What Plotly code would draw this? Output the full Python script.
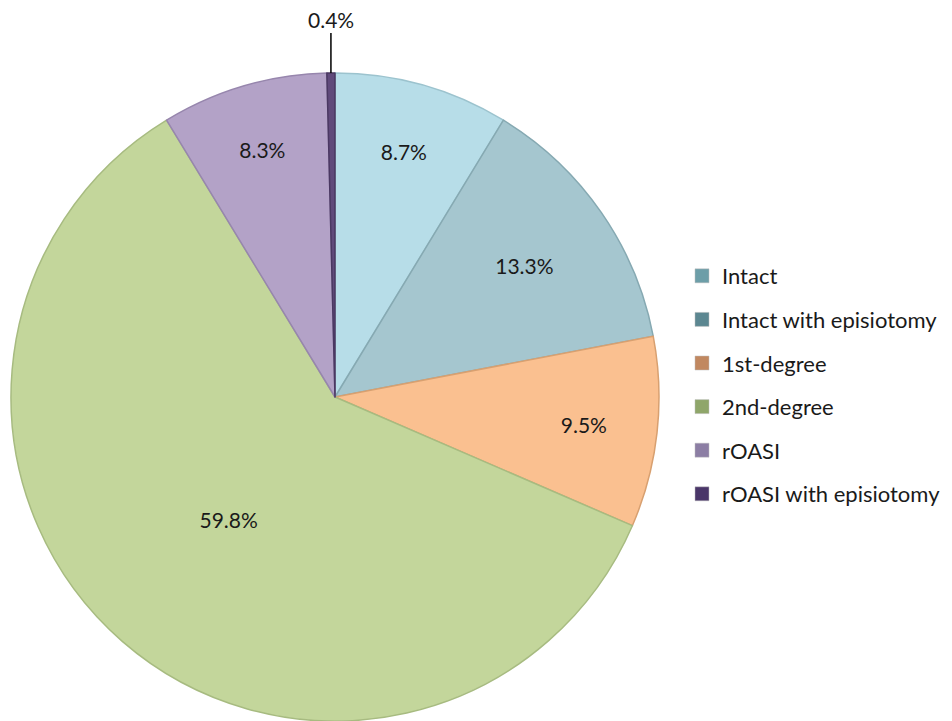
import math
import plotly.graph_objects as go

# Perineal outcome categories and their shares (%)
categories = ["Intact", "Intact with episiotomy", "1st-degree", "2nd-degree",
              "rOASI", "rOASI with episiotomy"]
shares = [8.7, 13.3, 9.5, 59.8, 8.3, 0.4]

slice_colors = ["#b7dde8", "#a5c6cf", "#fac090", "#c3d69b", "#b3a2c7", "#604a7b"]
edge_colors = ["#9cc3ce", "#86a9b2", "#d8a070", "#a7bb80", "#9786ad", "#4a3862"]
legend_colors = ["#6d9ea8", "#5c8791", "#c18860", "#8fa66a", "#8c7ea4", "#4a3669"]

W, H = 952, 721
font = "Lato, Calibri, Carlito, sans-serif"

# Pie drawn inside a square-ish domain on the left side
dom_x = [10 / W, 660 / W]
dom_y = [0 / H, 1 - 73 / H]

inside_text = [f"{v:.1f}%" if v >= 1 else "" for v in shares]

fig = go.Figure()
fig.add_trace(go.Pie(
    labels=categories,
    values=shares,
    sort=False,
    direction="clockwise",
    rotation=0,
    marker=dict(colors=slice_colors, line=dict(color=edge_colors, width=1.5)),
    text=inside_text,
    textinfo="text",
    textposition="inside",
    insidetextorientation="horizontal",
    textfont=dict(family=font, size=21, color="#1a1a1a"),
    domain=dict(x=dom_x, y=dom_y),
    showlegend=False,
    hoverinfo="label+percent",
))

# Legend entries with square swatches
for i, (name, col) in enumerate(zip(categories, legend_colors)):
    fig.add_trace(go.Scatter(
        x=[None], y=[None], mode="markers", name=name,
        legendgroup=f"g{i}",
        marker=dict(symbol="square", size=14, color=col,
                    line=dict(color="#bfbfbf", width=0.5)),
    ))

# Callout for the small slice: leader from its outer edge upward
total = sum(shares)
start = sum(shares[:-1]) / total * 360
mid_deg = start + shares[-1] / total * 360 / 2
theta = math.radians(90 - mid_deg)
cx_px = (dom_x[0] + dom_x[1]) / 2 * W
cy_px = (dom_y[0] + dom_y[1]) / 2 * H
r_px = min((dom_x[1] - dom_x[0]) * W, (dom_y[1] - dom_y[0]) * H) / 2
tip_x = (cx_px + r_px * math.cos(theta)) / W
tip_y = (cy_px + r_px * math.sin(theta)) / H
fig.add_annotation(
    x=tip_x, y=tip_y, xref="paper", yref="paper",
    text=f"{shares[-1]:.1f}%",
    showarrow=True, arrowhead=0, arrowwidth=1.5, arrowcolor="#000000",
    ax=0, ay=-54, standoff=0,
    font=dict(family=font, size=21, color="#1a1a1a"),
)

fig.update_layout(
    width=W, height=H,
    margin=dict(l=0, r=0, t=0, b=0),
    paper_bgcolor="white",
    plot_bgcolor="white",
    xaxis=dict(visible=False),
    yaxis=dict(visible=False),
    legend=dict(
        x=682 / W, y=1 - 385 / H, xanchor="left", yanchor="middle",
        font=dict(family=font, size=22, color="#1a1a1a"),
        tracegroupgap=12, bgcolor="rgba(0,0,0,0)",
    ),
)

fig.write_html("out.html")
